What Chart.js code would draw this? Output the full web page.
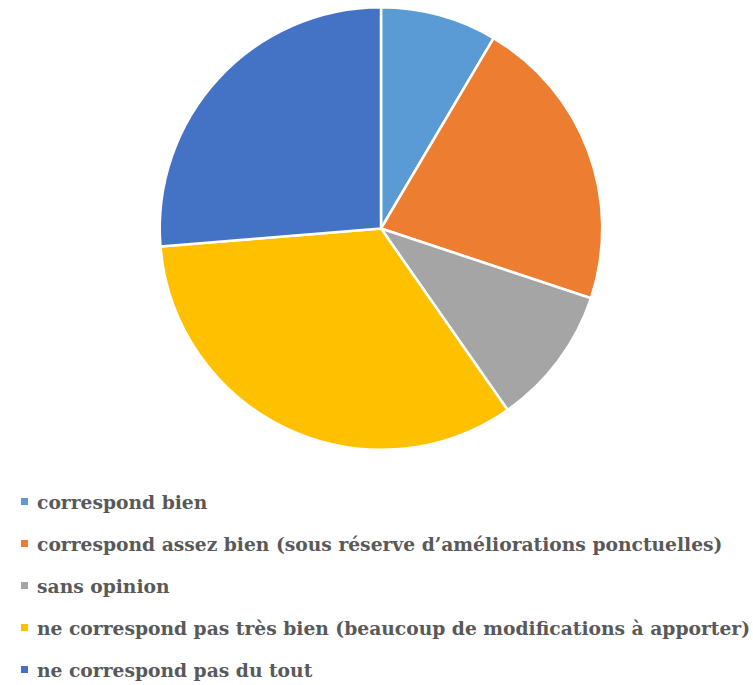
<!DOCTYPE html>
<html>
<head>
<meta charset="utf-8">
<script src="https://cdn.jsdelivr.net/npm/chart.js@4.4.0/dist/chart.umd.min.js"></script>
<style>
  html, body { margin: 0; padding: 0; background: #fff; }
  #wrap { position: relative; width: 753px; height: 685px; overflow: hidden; }
  #box { position: absolute; left: 0; top: 0; width: 753px; height: 460px; }
  #legende { position: absolute; left: 0; top: 481px; width: 753px; }
  .item { position: relative; height: 42px; line-height: 42px; white-space: nowrap;
          font-family: "DejaVu Serif", serif; font-weight: bold; font-size: 18.7px; color: #595959; }
  .item span.carre { position: absolute; left: 21px; top: 17px; width: 7px; height: 7px; }
  .item span.txt { position: absolute; left: 37px; top: 0; }
</style>
</head>
<body>
<div id="wrap">
  <div id="box"><canvas id="camembert"></canvas></div>
  <div id="legende"></div>
</div>
<script>
// categories
var categories = [
  "correspond bien",
  "correspond assez bien (sous réserve d\u2019améliorations ponctuelles)",
  "sans opinion",
  "ne correspond pas très bien (beaucoup de modifications à apporter)",
  "ne correspond pas du tout"
];
// valeurs (en %)
var valeurs = [8.5, 21.6, 10.2, 33.4, 26.3];
var couleurs = ['#5B9BD5', '#ED7D31', '#A5A5A5', '#FFC000', '#4472C4'];

var ctx = document.getElementById('camembert').getContext('2d');
var chart = new Chart(ctx, {
    type: 'pie',
    data: {
        labels: categories,
        datasets: [{
            data: valeurs,
            backgroundColor: couleurs,
            borderColor: '#ffffff',
            borderWidth: 2.5
        }]
    },
    options: {
        responsive: true,
        maintainAspectRatio: false,
        animation: false,
        layout: { padding: { top: 6, left: 158, right: 149, bottom: 9 } },
        plugins: {
            legend: { display: false },
            tooltip: { enabled: false }
        }
    }
});

// legende en html
var leg = document.getElementById('legende');
categories.forEach(function (c, i) {
    var d = document.createElement('div');
    d.className = 'item';
    d.innerHTML = '<span class="carre" style="background:' + couleurs[i] + '"></span><span class="txt"></span>';
    d.querySelector('.txt').textContent = c;
    leg.appendChild(d);
});
</script>
</body>
</html>
